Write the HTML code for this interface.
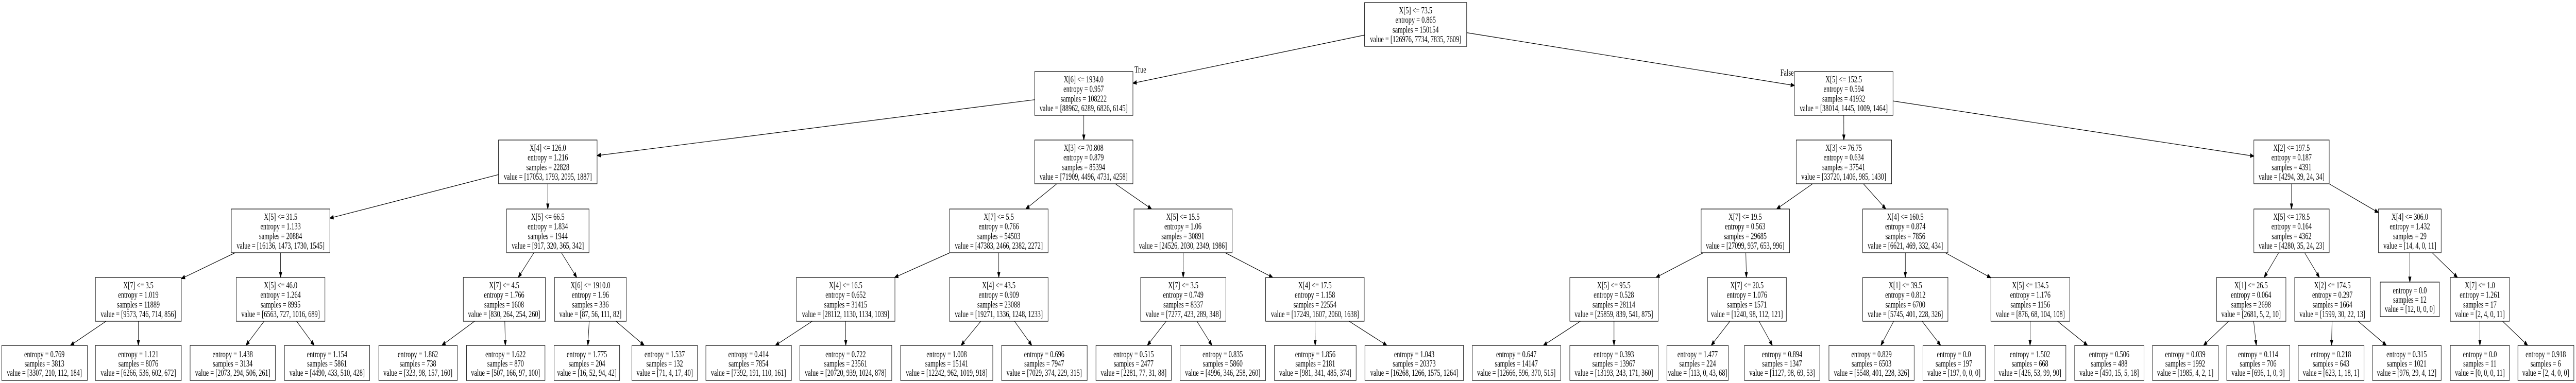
<!DOCTYPE html>
<html><head><meta charset="utf-8"><style>
html,body{margin:0;padding:0;background:#fff;width:100vw;height:100vh;overflow:hidden}
svg{display:block;width:100vw;height:100vh}
rect{fill:#fff;stroke:#000;stroke-width:1.2}
text{font-family:"Liberation Serif",serif;font-size:18px;fill:#000;text-anchor:middle}
</style></head><body>
<svg id="s" viewBox="0 0 7317 744" preserveAspectRatio="none" xmlns="http://www.w3.org/2000/svg">
<g id="edges" stroke="#000" stroke-width="1.2" fill="#000"></g>
<g id="nodes">
<g id="N0"><rect x="3876" y="5" width="290" height="85"/><text x="4021" y="26"><tspan x="4021">X[5] &lt;= 73.5</tspan><tspan x="4021" dy="18.7">entropy = 0.865</tspan><tspan x="4021" dy="18.7">samples = 150154</tspan><tspan x="4021" dy="18.7">value = [126976, 7734, 7835, 7609]</tspan></text></g>
<g id="N1"><rect x="2939" y="139" width="279" height="85"/><text x="3078" y="160"><tspan x="3078">X[6] &lt;= 1934.0</tspan><tspan x="3078" dy="18.7">entropy = 0.957</tspan><tspan x="3078" dy="18.7">samples = 108222</tspan><tspan x="3078" dy="18.7">value = [88962, 6289, 6826, 6145]</tspan></text></g>
<g id="N2"><rect x="1416" y="272" width="280" height="85"/><text x="1556" y="293"><tspan x="1556">X[4] &lt;= 126.0</tspan><tspan x="1556" dy="18.7">entropy = 1.216</tspan><tspan x="1556" dy="18.7">samples = 22828</tspan><tspan x="1556" dy="18.7">value = [17053, 1793, 2095, 1887]</tspan></text></g>
<g id="N3"><rect x="657" y="406" width="280" height="85"/><text x="797" y="427"><tspan x="797">X[5] &lt;= 31.5</tspan><tspan x="797" dy="18.7">entropy = 1.133</tspan><tspan x="797" dy="18.7">samples = 20884</tspan><tspan x="797" dy="18.7">value = [16136, 1473, 1730, 1545]</tspan></text></g>
<g id="N4"><rect x="271" y="539" width="244" height="85"/><text x="393" y="560"><tspan x="393">X[7] &lt;= 3.5</tspan><tspan x="393" dy="18.7">entropy = 1.019</tspan><tspan x="393" dy="18.7">samples = 11889</tspan><tspan x="393" dy="18.7">value = [9573, 746, 714, 856]</tspan></text></g>
<g id="L1"><rect x="5" y="671" width="243" height="68"/><text x="126" y="694"><tspan x="126">entropy = 0.769</tspan><tspan x="126" dy="18">samples = 3813</tspan><tspan x="126" dy="18">value = [3307, 210, 112, 184]</tspan></text></g>
<g id="L2"><rect x="271" y="671" width="244" height="68"/><text x="393" y="694"><tspan x="393">entropy = 1.121</tspan><tspan x="393" dy="18">samples = 8076</tspan><tspan x="393" dy="18">value = [6266, 536, 602, 672]</tspan></text></g>
<g id="N5"><rect x="671" y="539" width="252" height="85"/><text x="797" y="560"><tspan x="797">X[5] &lt;= 46.0</tspan><tspan x="797" dy="18.7">entropy = 1.264</tspan><tspan x="797" dy="18.7">samples = 8995</tspan><tspan x="797" dy="18.7">value = [6563, 727, 1016, 689]</tspan></text></g>
<g id="L3"><rect x="540" y="671" width="242" height="68"/><text x="661" y="694"><tspan x="661">entropy = 1.438</tspan><tspan x="661" dy="18">samples = 3134</tspan><tspan x="661" dy="18">value = [2073, 294, 506, 261]</tspan></text></g>
<g id="L4"><rect x="808" y="671" width="242" height="68"/><text x="929" y="694"><tspan x="929">entropy = 1.154</tspan><tspan x="929" dy="18">samples = 5861</tspan><tspan x="929" dy="18">value = [4490, 433, 510, 428]</tspan></text></g>
<g id="N6"><rect x="1439" y="406" width="234" height="85"/><text x="1556" y="427"><tspan x="1556">X[5] &lt;= 66.5</tspan><tspan x="1556" dy="18.7">entropy = 1.834</tspan><tspan x="1556" dy="18.7">samples = 1944</tspan><tspan x="1556" dy="18.7">value = [917, 320, 365, 342]</tspan></text></g>
<g id="N7"><rect x="1316" y="539" width="233" height="85"/><text x="1432" y="560"><tspan x="1432">X[7] &lt;= 4.5</tspan><tspan x="1432" dy="18.7">entropy = 1.766</tspan><tspan x="1432" dy="18.7">samples = 1608</tspan><tspan x="1432" dy="18.7">value = [830, 264, 254, 260]</tspan></text></g>
<g id="L5"><rect x="1076" y="671" width="223" height="68"/><text x="1187" y="694"><tspan x="1187">entropy = 1.862</tspan><tspan x="1187" dy="18">samples = 738</tspan><tspan x="1187" dy="18">value = [323, 98, 157, 160]</tspan></text></g>
<g id="L6"><rect x="1325" y="671" width="223" height="68"/><text x="1436" y="694"><tspan x="1436">entropy = 1.622</tspan><tspan x="1436" dy="18">samples = 870</tspan><tspan x="1436" dy="18">value = [507, 166, 97, 100]</tspan></text></g>
<g id="N8"><rect x="1575" y="539" width="204" height="85"/><text x="1677" y="560"><tspan x="1677">X[6] &lt;= 1910.0</tspan><tspan x="1677" dy="18.7">entropy = 1.96</tspan><tspan x="1677" dy="18.7">samples = 336</tspan><tspan x="1677" dy="18.7">value = [87, 56, 111, 82]</tspan></text></g>
<g id="L7"><rect x="1574" y="671" width="186" height="68"/><text x="1667" y="694"><tspan x="1667">entropy = 1.775</tspan><tspan x="1667" dy="18">samples = 204</tspan><tspan x="1667" dy="18">value = [16, 52, 94, 42]</tspan></text></g>
<g id="L8"><rect x="1795" y="671" width="186" height="68"/><text x="1888" y="694"><tspan x="1888">entropy = 1.537</tspan><tspan x="1888" dy="18">samples = 132</tspan><tspan x="1888" dy="18">value = [71, 4, 17, 40]</tspan></text></g>
<g id="N9"><rect x="2939" y="272" width="279" height="85"/><text x="3078" y="293"><tspan x="3078">X[3] &lt;= 70.808</tspan><tspan x="3078" dy="18.7">entropy = 0.879</tspan><tspan x="3078" dy="18.7">samples = 85394</tspan><tspan x="3078" dy="18.7">value = [71909, 4496, 4731, 4258]</tspan></text></g>
<g id="N10"><rect x="2697" y="406" width="280" height="85"/><text x="2837" y="427"><tspan x="2837">X[7] &lt;= 5.5</tspan><tspan x="2837" dy="18.7">entropy = 0.766</tspan><tspan x="2837" dy="18.7">samples = 54503</tspan><tspan x="2837" dy="18.7">value = [47383, 2466, 2382, 2272]</tspan></text></g>
<g id="N11"><rect x="2262" y="539" width="280" height="85"/><text x="2402" y="560"><tspan x="2402">X[4] &lt;= 16.5</tspan><tspan x="2402" dy="18.7">entropy = 0.652</tspan><tspan x="2402" dy="18.7">samples = 31415</tspan><tspan x="2402" dy="18.7">value = [28112, 1130, 1134, 1039]</tspan></text></g>
<g id="L9"><rect x="2005" y="671" width="243" height="68"/><text x="2126" y="694"><tspan x="2126">entropy = 0.414</tspan><tspan x="2126" dy="18">samples = 7854</tspan><tspan x="2126" dy="18">value = [7392, 191, 110, 161]</tspan></text></g>
<g id="L10"><rect x="2272" y="671" width="261" height="68"/><text x="2402" y="694"><tspan x="2402">entropy = 0.722</tspan><tspan x="2402" dy="18">samples = 23561</tspan><tspan x="2402" dy="18">value = [20720, 939, 1024, 878]</tspan></text></g>
<g id="N12"><rect x="2697" y="539" width="280" height="85"/><text x="2837" y="560"><tspan x="2837">X[4] &lt;= 43.5</tspan><tspan x="2837" dy="18.7">entropy = 0.909</tspan><tspan x="2837" dy="18.7">samples = 23088</tspan><tspan x="2837" dy="18.7">value = [19271, 1336, 1248, 1233]</tspan></text></g>
<g id="L11"><rect x="2558" y="671" width="262" height="68"/><text x="2689" y="694"><tspan x="2689">entropy = 1.008</tspan><tspan x="2689" dy="18">samples = 15141</tspan><tspan x="2689" dy="18">value = [12242, 962, 1019, 918]</tspan></text></g>
<g id="L12"><rect x="2845" y="671" width="243" height="68"/><text x="2966" y="694"><tspan x="2966">entropy = 0.696</tspan><tspan x="2966" dy="18">samples = 7947</tspan><tspan x="2966" dy="18">value = [7029, 374, 229, 315]</tspan></text></g>
<g id="N13"><rect x="3221" y="406" width="279" height="85"/><text x="3360" y="427"><tspan x="3360">X[5] &lt;= 15.5</tspan><tspan x="3360" dy="18.7">entropy = 1.06</tspan><tspan x="3360" dy="18.7">samples = 30891</tspan><tspan x="3360" dy="18.7">value = [24526, 2030, 2349, 1986]</tspan></text></g>
<g id="N14"><rect x="3240" y="539" width="242" height="85"/><text x="3361" y="560"><tspan x="3361">X[7] &lt;= 3.5</tspan><tspan x="3361" dy="18.7">entropy = 0.749</tspan><tspan x="3361" dy="18.7">samples = 8337</tspan><tspan x="3361" dy="18.7">value = [7277, 423, 289, 348]</tspan></text></g>
<g id="L13"><rect x="3113" y="671" width="214" height="68"/><text x="3220" y="694"><tspan x="3220">entropy = 0.515</tspan><tspan x="3220" dy="18">samples = 2477</tspan><tspan x="3220" dy="18">value = [2281, 77, 31, 88]</tspan></text></g>
<g id="L14"><rect x="3352" y="671" width="243" height="68"/><text x="3473" y="694"><tspan x="3473">entropy = 0.835</tspan><tspan x="3473" dy="18">samples = 5860</tspan><tspan x="3473" dy="18">value = [4996, 346, 258, 260]</tspan></text></g>
<g id="N15"><rect x="3595" y="539" width="280" height="85"/><text x="3735" y="560"><tspan x="3735">X[4] &lt;= 17.5</tspan><tspan x="3735" dy="18.7">entropy = 1.158</tspan><tspan x="3735" dy="18.7">samples = 22554</tspan><tspan x="3735" dy="18.7">value = [17249, 1607, 2060, 1638]</tspan></text></g>
<g id="L15"><rect x="3620" y="671" width="232" height="68"/><text x="3736" y="694"><tspan x="3736">entropy = 1.856</tspan><tspan x="3736" dy="18">samples = 2181</tspan><tspan x="3736" dy="18">value = [981, 341, 485, 374]</tspan></text></g>
<g id="L16"><rect x="3877" y="671" width="280" height="68"/><text x="4017" y="694"><tspan x="4017">entropy = 1.043</tspan><tspan x="4017" dy="18">samples = 20373</tspan><tspan x="4017" dy="18">value = [16268, 1266, 1575, 1264]</tspan></text></g>
<g id="N16"><rect x="5097" y="139" width="280" height="85"/><text x="5237" y="160"><tspan x="5237">X[5] &lt;= 152.5</tspan><tspan x="5237" dy="18.7">entropy = 0.594</tspan><tspan x="5237" dy="18.7">samples = 41932</tspan><tspan x="5237" dy="18.7">value = [38014, 1445, 1009, 1464]</tspan></text></g>
<g id="N17"><rect x="5102" y="272" width="271" height="85"/><text x="5237" y="293"><tspan x="5237">X[3] &lt;= 76.75</tspan><tspan x="5237" dy="18.7">entropy = 0.634</tspan><tspan x="5237" dy="18.7">samples = 37541</tspan><tspan x="5237" dy="18.7">value = [33720, 1406, 985, 1430]</tspan></text></g>
<g id="N18"><rect x="4832" y="406" width="251" height="85"/><text x="4957" y="427"><tspan x="4957">X[7] &lt;= 19.5</tspan><tspan x="4957" dy="18.7">entropy = 0.563</tspan><tspan x="4957" dy="18.7">samples = 29685</tspan><tspan x="4957" dy="18.7">value = [27099, 937, 653, 996]</tspan></text></g>
<g id="N19"><rect x="4459" y="539" width="251" height="85"/><text x="4584" y="560"><tspan x="4584">X[5] &lt;= 95.5</tspan><tspan x="4584" dy="18.7">entropy = 0.528</tspan><tspan x="4584" dy="18.7">samples = 28114</tspan><tspan x="4584" dy="18.7">value = [25859, 839, 541, 875]</tspan></text></g>
<g id="L17"><rect x="4182" y="671" width="251" height="68"/><text x="4307" y="694"><tspan x="4307">entropy = 0.647</tspan><tspan x="4307" dy="18">samples = 14147</tspan><tspan x="4307" dy="18">value = [12666, 596, 370, 515]</tspan></text></g>
<g id="L18"><rect x="4459" y="671" width="251" height="68"/><text x="4584" y="694"><tspan x="4584">entropy = 0.393</tspan><tspan x="4584" dy="18">samples = 13967</tspan><tspan x="4584" dy="18">value = [13193, 243, 171, 360]</tspan></text></g>
<g id="N20"><rect x="4850" y="539" width="224" height="85"/><text x="4962" y="560"><tspan x="4962">X[7] &lt;= 20.5</tspan><tspan x="4962" dy="18.7">entropy = 1.076</tspan><tspan x="4962" dy="18.7">samples = 1571</tspan><tspan x="4962" dy="18.7">value = [1240, 98, 112, 121]</tspan></text></g>
<g id="L19"><rect x="4735" y="671" width="174" height="68"/><text x="4822" y="694"><tspan x="4822">entropy = 1.477</tspan><tspan x="4822" dy="18">samples = 224</tspan><tspan x="4822" dy="18">value = [113, 0, 43, 68]</tspan></text></g>
<g id="L20"><rect x="4955" y="671" width="214" height="68"/><text x="5062" y="694"><tspan x="5062">entropy = 0.894</tspan><tspan x="5062" dy="18">samples = 1347</tspan><tspan x="5062" dy="18">value = [1127, 98, 69, 53]</tspan></text></g>
<g id="N21"><rect x="5291" y="406" width="242" height="85"/><text x="5412" y="427"><tspan x="5412">X[4] &lt;= 160.5</tspan><tspan x="5412" dy="18.7">entropy = 0.874</tspan><tspan x="5412" dy="18.7">samples = 7856</tspan><tspan x="5412" dy="18.7">value = [6621, 469, 332, 434]</tspan></text></g>
<g id="N22"><rect x="5291" y="539" width="242" height="85"/><text x="5412" y="560"><tspan x="5412">X[1] &lt;= 39.5</tspan><tspan x="5412" dy="18.7">entropy = 0.812</tspan><tspan x="5412" dy="18.7">samples = 6700</tspan><tspan x="5412" dy="18.7">value = [5745, 401, 228, 326]</tspan></text></g>
<g id="L21"><rect x="5195" y="671" width="242" height="68"/><text x="5316" y="694"><tspan x="5316">entropy = 0.829</tspan><tspan x="5316" dy="18">samples = 6503</tspan><tspan x="5316" dy="18">value = [5548, 401, 228, 326]</tspan></text></g>
<g id="L22"><rect x="5462" y="671" width="177" height="68"/><text x="5550" y="694"><tspan x="5550">entropy = 0.0</tspan><tspan x="5550" dy="18">samples = 197</tspan><tspan x="5550" dy="18">value = [197, 0, 0, 0]</tspan></text></g>
<g id="N23"><rect x="5655" y="539" width="224" height="85"/><text x="5767" y="560"><tspan x="5767">X[5] &lt;= 134.5</tspan><tspan x="5767" dy="18.7">entropy = 1.176</tspan><tspan x="5767" dy="18.7">samples = 1156</tspan><tspan x="5767" dy="18.7">value = [876, 68, 104, 108]</tspan></text></g>
<g id="L23"><rect x="5664" y="671" width="204" height="68"/><text x="5766" y="694"><tspan x="5766">entropy = 1.502</tspan><tspan x="5766" dy="18">samples = 668</tspan><tspan x="5766" dy="18">value = [426, 53, 99, 90]</tspan></text></g>
<g id="L24"><rect x="5893" y="671" width="197" height="68"/><text x="5991" y="694"><tspan x="5991">entropy = 0.506</tspan><tspan x="5991" dy="18">samples = 488</tspan><tspan x="5991" dy="18">value = [450, 15, 5, 18]</tspan></text></g>
<g id="N24"><rect x="6402" y="272" width="214" height="85"/><text x="6509" y="293"><tspan x="6509">X[2] &lt;= 197.5</tspan><tspan x="6509" dy="18.7">entropy = 0.187</tspan><tspan x="6509" dy="18.7">samples = 4391</tspan><tspan x="6509" dy="18.7">value = [4294, 39, 24, 34]</tspan></text></g>
<g id="N25"><rect x="6402" y="406" width="214" height="85"/><text x="6509" y="427"><tspan x="6509">X[5] &lt;= 178.5</tspan><tspan x="6509" dy="18.7">entropy = 0.164</tspan><tspan x="6509" dy="18.7">samples = 4362</tspan><tspan x="6509" dy="18.7">value = [4280, 35, 24, 23]</tspan></text></g>
<g id="N26"><rect x="6296" y="539" width="197" height="85"/><text x="6394" y="560"><tspan x="6394">X[1] &lt;= 26.5</tspan><tspan x="6394" dy="18.7">entropy = 0.064</tspan><tspan x="6394" dy="18.7">samples = 2698</tspan><tspan x="6394" dy="18.7">value = [2681, 5, 2, 10]</tspan></text></g>
<g id="L25"><rect x="6114" y="671" width="187" height="68"/><text x="6207" y="694"><tspan x="6207">entropy = 0.039</tspan><tspan x="6207" dy="18">samples = 1992</tspan><tspan x="6207" dy="18">value = [1985, 4, 2, 1]</tspan></text></g>
<g id="L26"><rect x="6325" y="671" width="179" height="68"/><text x="6414" y="694"><tspan x="6414">entropy = 0.114</tspan><tspan x="6414" dy="18">samples = 706</tspan><tspan x="6414" dy="18">value = [696, 1, 0, 9]</tspan></text></g>
<g id="N27"><rect x="6518" y="539" width="215" height="85"/><text x="6625" y="560"><tspan x="6625">X[2] &lt;= 174.5</tspan><tspan x="6625" dy="18.7">entropy = 0.297</tspan><tspan x="6625" dy="18.7">samples = 1664</tspan><tspan x="6625" dy="18.7">value = [1599, 30, 22, 13]</tspan></text></g>
<g id="L27"><rect x="6528" y="671" width="187" height="68"/><text x="6621" y="694"><tspan x="6621">entropy = 0.218</tspan><tspan x="6621" dy="18">samples = 643</tspan><tspan x="6621" dy="18">value = [623, 1, 18, 1]</tspan></text></g>
<g id="L28"><rect x="6739" y="671" width="195" height="68"/><text x="6836" y="694"><tspan x="6836">entropy = 0.315</tspan><tspan x="6836" dy="18">samples = 1021</tspan><tspan x="6836" dy="18">value = [976, 29, 4, 12]</tspan></text></g>
<g id="N28"><rect x="6756" y="406" width="178" height="85"/><text x="6845" y="427"><tspan x="6845">X[4] &lt;= 306.0</tspan><tspan x="6845" dy="18.7">entropy = 1.432</tspan><tspan x="6845" dy="18.7">samples = 29</tspan><tspan x="6845" dy="18.7">value = [14, 4, 0, 11]</tspan></text></g>
<g id="LX"><rect x="6761" y="548" width="168" height="67"/><text x="6845" y="570"><tspan x="6845">entropy = 0.0</tspan><tspan x="6845" dy="18">samples = 12</tspan><tspan x="6845" dy="18">value = [12, 0, 0, 0]</tspan></text></g>
<g id="N29"><rect x="6960" y="539" width="168" height="85"/><text x="7044" y="560"><tspan x="7044">X[7] &lt;= 1.0</tspan><tspan x="7044" dy="18.7">entropy = 1.261</tspan><tspan x="7044" dy="18.7">samples = 17</tspan><tspan x="7044" dy="18.7">value = [2, 4, 0, 11]</tspan></text></g>
<g id="L29"><rect x="6960" y="671" width="168" height="68"/><text x="7044" y="694"><tspan x="7044">entropy = 0.0</tspan><tspan x="7044" dy="18">samples = 11</tspan><tspan x="7044" dy="18">value = [0, 0, 0, 11]</tspan></text></g>
<g id="L30"><rect x="7152" y="671" width="159" height="68"/><text x="7231" y="694"><tspan x="7231">entropy = 0.918</tspan><tspan x="7231" dy="18">samples = 6</tspan><tspan x="7231" dy="18">value = [2, 4, 0, 0]</tspan></text></g>
</g>
<text x="3239" y="141">True</text>
<text x="5076" y="147">False</text>
</svg>
<script>
(function(){
var E=[["N0","N1"],["N0","N16"],["N1","N2"],["N1","N9"],["N2","N3"],["N2","N6"],["N3","N4"],["N3","N5"],["N4","L1"],["N4","L2"],["N5","L3"],["N5","L4"],["N6","N7"],["N6","N8"],["N7","L5"],["N7","L6"],["N8","L7"],["N8","L8"],["N9","N10"],["N9","N13"],["N10","N11"],["N10","N12"],["N11","L9"],["N11","L10"],["N12","L11"],["N12","L12"],["N13","N14"],["N13","N15"],["N14","L13"],["N14","L14"],["N15","L15"],["N15","L16"],["N16","N17"],["N16","N24"],["N17","N18"],["N17","N21"],["N18","N19"],["N18","N20"],["N19","L17"],["N19","L18"],["N20","L19"],["N20","L20"],["N21","N22"],["N21","N23"],["N22","L21"],["N22","L22"],["N23","L23"],["N23","L24"],["N24","N25"],["N24","N28"],["N25","N26"],["N25","N27"],["N26","L25"],["N26","L26"],["N27","L27"],["N27","L28"],["N28","LX"],["N28","N29"],["N29","L29"],["N29","L30"]];
function box(id){var r=document.querySelector("#"+id+" rect");var x=+r.getAttribute("x"),y=+r.getAttribute("y"),w=+r.getAttribute("width"),h=+r.getAttribute("height");return{x:x,y:y,w:w,h:h,cx:x+w/2,cy:y+h/2};}
function clip(b,dx,dy){var tx=dx?Math.abs((b.w/2)/dx):1e9,ty=dy?Math.abs((b.h/2)/dy):1e9;return Math.min(tx,ty);}
var g=document.getElementById("edges"),out="";
E.forEach(function(e){var a=box(e[0]),b=box(e[1]);var dx=b.cx-a.cx,dy=b.cy-a.cy;
var t1=clip(a,dx,dy),t2=clip(b,-dx,-dy);
var x1=a.cx+dx*t1,y1=a.cy+dy*t1,x2=b.cx-dx*t2,y2=b.cy-dy*t2;
var L=Math.hypot(x2-x1,y2-y1),ux=(x2-x1)/L,uy=(y2-y1)/L,al=10,aw=3.6;
var bx=x2-ux*al,by=y2-uy*al;
out+='<line x1="'+x1+'" y1="'+y1+'" x2="'+bx+'" y2="'+by+'"/>';
out+='<polygon points="'+x2+','+y2+' '+(bx-uy*aw)+','+(by+ux*aw)+' '+(bx+uy*aw)+','+(by-ux*aw)+'"/>';});
g.innerHTML=out;
})();
</script>
</body></html>
